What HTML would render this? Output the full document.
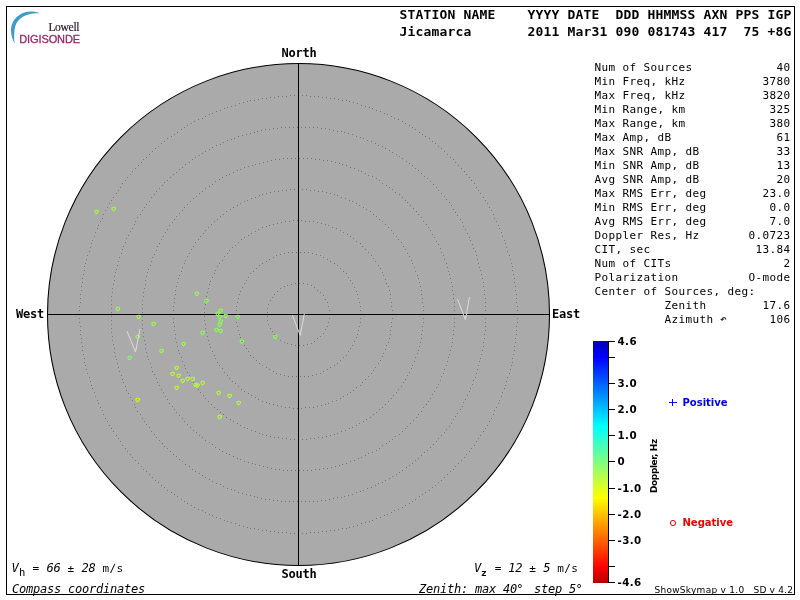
<!DOCTYPE html>
<html lang="en"><head><meta charset="utf-8"><title>Digisonde Skymap - Jicamarca</title>
<style>
html,body{margin:0;padding:0;background:#fff;}
body{width:800px;height:600px;overflow:hidden;position:relative;}
svg{position:absolute;left:0;top:0;display:block;}
text{white-space:pre;}
.m{font-family:"DejaVu Sans Mono","Liberation Mono",monospace;font-size:12px;letter-spacing:-0.2246px;fill:#000;}
.t{font-family:"DejaVu Sans Mono","Liberation Mono",monospace;font-size:11px;letter-spacing:0.3775px;fill:#000;}
.mi{font-style:italic;}
.hb{font-family:"DejaVu Sans Mono","Liberation Mono",monospace;font-weight:bold;font-size:13px;letter-spacing:0.1733px;fill:#000;}
.cb{font-family:"DejaVu Sans Mono","Liberation Mono",monospace;font-weight:bold;font-size:12px;letter-spacing:-0.2246px;fill:#000;}
.sb{font-family:"DejaVu Sans","Liberation Sans",sans-serif;font-weight:bold;font-size:10px;fill:#000;}
.tk{font-size:10.3px;letter-spacing:0.4px;}
.s{font-family:"DejaVu Sans","Liberation Sans",sans-serif;font-size:9px;letter-spacing:0.27px;fill:#000;}
</style></head><body>
<svg width="800" height="600" viewBox="0 0 800 600">
<defs><linearGradient id="jet" x1="0" y1="0" x2="0" y2="1">
<stop offset="0.0000" stop-color="#0000b4"/>
<stop offset="0.0664" stop-color="#0000ff"/>
<stop offset="0.3527" stop-color="#00ffff"/>
<stop offset="0.5000" stop-color="#80ff80"/>
<stop offset="0.6473" stop-color="#ffff00"/>
<stop offset="0.9336" stop-color="#ff0000"/>
<stop offset="1.0000" stop-color="#b40000"/>
</linearGradient></defs>
<rect x="0" y="0" width="800" height="600" fill="#fff"/>
<rect x="6.5" y="6.5" width="788" height="588" fill="none" stroke="#000" stroke-width="1"/>
<path d="M40,13.2 C33,10.5 24,11 18,16 C13,20 11,25 11,30 C11,35 12.5,40 14.7,43.2 C13.8,39 14.2,34 14.5,30 C15,25 17,21 21,18 C26,14.2 33,13 40,13.2 Z" fill="#3d9cc8"/>
<text x="48.4" y="31" style="font-family:'Liberation Serif',serif;font-size:11.6px;letter-spacing:-0.35px;fill:#2a1a28;stroke:#2a1a28;stroke-width:0.2px">Lowell</text>
<text x="19.3" y="43" style="font-family:'Liberation Sans',sans-serif;font-size:11px;letter-spacing:-0.12px;fill:#9a2866;stroke:#9a2866;stroke-width:0.3px">DIGISONDE</text>
<circle cx="298.5" cy="314.5" r="251.0" fill="#aaaaaa" stroke="#000" stroke-width="1.05"/>
<path d="M329 314.5h1M329 318.5h1M328 322.5h1M327 326.5h1M325 329.5h1M323 333.5h1M320 336.5h1M317 338.5h1M314 341.5h1M311 343.5h1M307 344.5h1M303 345.5h1M299 345.5h1M295 345.5h1M291 344.5h1M287 343.5h1M284 342.5h1M280 340.5h1M277 337.5h1M274 334.5h1M272 331.5h1M270 328.5h1M268 324.5h1M267 320.5h1M267 316.5h1M267 312.5h1M267 308.5h1M268 304.5h1M270 300.5h1M272 297.5h1M274 294.5h1M277 291.5h1M280 288.5h1M284 286.5h1M287 285.5h1M291 284.5h1M295 283.5h1M299 283.5h1M303 283.5h1M307 284.5h1M311 285.5h1M314 287.5h1M317 290.5h1M320 292.5h1M323 295.5h1M325 299.5h1M327 302.5h1M328 306.5h1M329 310.5h1M361 314.5h1M360 318.5h1M360 322.5h1M359 326.5h1M358 330.5h1M357 334.5h1M356 337.5h1M354 341.5h1M352 345.5h1M350 348.5h1M348 351.5h1M346 355.5h1M343 357.5h1M340 360.5h1M337 363.5h1M334 365.5h1M330 367.5h1M327 369.5h1M323 371.5h1M320 373.5h1M316 374.5h1M312 375.5h1M308 376.5h1M304 376.5h1M300 376.5h1M296 376.5h1M292 376.5h1M288 376.5h1M284 375.5h1M280 374.5h1M276 373.5h1M273 371.5h1M269 369.5h1M266 367.5h1M262 365.5h1M259 363.5h1M256 360.5h1M253 357.5h1M250 355.5h1M248 351.5h1M246 348.5h1M244 345.5h1M242 341.5h1M240 337.5h1M239 334.5h1M238 330.5h1M237 326.5h1M236 322.5h1M236 318.5h1M236 314.5h1M236 310.5h1M236 306.5h1M237 302.5h1M238 298.5h1M239 294.5h1M240 291.5h1M242 287.5h1M244 283.5h1M246 280.5h1M248 277.5h1M250 273.5h1M253 271.5h1M256 268.5h1M259 265.5h1M262 263.5h1M266 261.5h1M269 259.5h1M273 257.5h1M276 255.5h1M280 254.5h1M284 253.5h1M288 252.5h1M292 252.5h1M296 252.5h1M300 252.5h1M304 252.5h1M308 252.5h1M312 253.5h1M316 254.5h1M320 255.5h1M323 257.5h1M327 259.5h1M330 261.5h1M334 263.5h1M337 265.5h1M340 268.5h1M343 271.5h1M346 273.5h1M348 277.5h1M350 280.5h1M352 283.5h1M354 287.5h1M356 291.5h1M357 294.5h1M358 298.5h1M359 302.5h1M360 306.5h1M360 310.5h1M392 314.5h1M392 318.5h1M391 322.5h1M391 326.5h1M390 330.5h1M390 334.5h1M389 338.5h1M388 342.5h1M386 345.5h1M385 349.5h1M383 353.5h1M382 356.5h1M380 360.5h1M378 363.5h1M375 367.5h1M373 370.5h1M371 373.5h1M368 376.5h1M365 379.5h1M362 382.5h1M360 385.5h1M356 387.5h1M353 390.5h1M350 392.5h1M347 394.5h1M343 396.5h1M340 398.5h1M336 400.5h1M332 401.5h1M328 403.5h1M325 404.5h1M321 405.5h1M317 406.5h1M313 407.5h1M309 407.5h1M305 407.5h1M301 408.5h1M297 408.5h1M293 408.5h1M289 407.5h1M285 407.5h1M281 406.5h1M277 405.5h1M273 404.5h1M269 403.5h1M266 402.5h1M262 401.5h1M258 399.5h1M255 397.5h1M251 395.5h1M248 393.5h1M244 391.5h1M241 389.5h1M238 386.5h1M235 383.5h1M232 381.5h1M229 378.5h1M227 375.5h1M224 372.5h1M222 368.5h1M219 365.5h1M217 362.5h1M215 358.5h1M214 355.5h1M212 351.5h1M210 347.5h1M209 344.5h1M208 340.5h1M207 336.5h1M206 332.5h1M205 328.5h1M205 324.5h1M204 320.5h1M204 316.5h1M204 312.5h1M204 308.5h1M205 304.5h1M205 300.5h1M206 296.5h1M207 292.5h1M208 288.5h1M209 284.5h1M210 281.5h1M212 277.5h1M214 273.5h1M215 270.5h1M217 266.5h1M219 263.5h1M222 260.5h1M224 256.5h1M227 253.5h1M229 250.5h1M232 247.5h1M235 245.5h1M238 242.5h1M241 239.5h1M244 237.5h1M248 235.5h1M251 233.5h1M255 231.5h1M258 229.5h1M262 227.5h1M266 226.5h1M269 225.5h1M273 224.5h1M277 223.5h1M281 222.5h1M285 221.5h1M289 221.5h1M293 220.5h1M297 220.5h1M301 220.5h1M305 221.5h1M309 221.5h1M313 221.5h1M317 222.5h1M321 223.5h1M325 224.5h1M328 225.5h1M332 227.5h1M336 228.5h1M340 230.5h1M343 232.5h1M347 234.5h1M350 236.5h1M353 238.5h1M356 241.5h1M360 243.5h1M362 246.5h1M365 249.5h1M368 252.5h1M371 255.5h1M373 258.5h1M375 261.5h1M378 265.5h1M380 268.5h1M382 272.5h1M383 275.5h1M385 279.5h1M386 283.5h1M388 286.5h1M389 290.5h1M390 294.5h1M390 298.5h1M391 302.5h1M391 306.5h1M392 310.5h1M423 314.5h1M423 318.5h1M423 322.5h1M422 326.5h1M422 330.5h1M421 334.5h1M421 338.5h1M420 342.5h1M419 346.5h1M418 350.5h1M417 353.5h1M415 357.5h1M414 361.5h1M412 365.5h1M411 368.5h1M409 372.5h1M407 375.5h1M405 379.5h1M403 382.5h1M401 386.5h1M398 389.5h1M396 392.5h1M393 395.5h1M391 398.5h1M388 401.5h1M385 404.5h1M382 407.5h1M379 409.5h1M376 412.5h1M373 414.5h1M370 417.5h1M366 419.5h1M363 421.5h1M359 423.5h1M356 425.5h1M352 427.5h1M349 428.5h1M345 430.5h1M341 431.5h1M337 433.5h1M334 434.5h1M330 435.5h1M326 436.5h1M322 437.5h1M318 437.5h1M314 438.5h1M310 438.5h1M306 439.5h1M302 439.5h1M298 439.5h1M294 439.5h1M290 439.5h1M286 438.5h1M282 438.5h1M278 437.5h1M274 437.5h1M270 436.5h1M266 435.5h1M262 434.5h1M259 433.5h1M255 431.5h1M251 430.5h1M247 428.5h1M244 427.5h1M240 425.5h1M237 423.5h1M233 421.5h1M230 419.5h1M226 417.5h1M223 414.5h1M220 412.5h1M217 409.5h1M214 407.5h1M211 404.5h1M208 401.5h1M205 398.5h1M203 395.5h1M200 392.5h1M198 389.5h1M195 386.5h1M193 382.5h1M191 379.5h1M189 375.5h1M187 372.5h1M185 368.5h1M184 365.5h1M182 361.5h1M181 357.5h1M179 353.5h1M178 350.5h1M177 346.5h1M176 342.5h1M175 338.5h1M175 334.5h1M174 330.5h1M174 326.5h1M173 322.5h1M173 318.5h1M173 314.5h1M173 310.5h1M173 306.5h1M174 302.5h1M174 298.5h1M175 294.5h1M175 290.5h1M176 286.5h1M177 282.5h1M178 278.5h1M179 275.5h1M181 271.5h1M182 267.5h1M184 263.5h1M185 260.5h1M187 256.5h1M189 253.5h1M191 249.5h1M193 246.5h1M195 242.5h1M198 239.5h1M200 236.5h1M203 233.5h1M205 230.5h1M208 227.5h1M211 224.5h1M214 221.5h1M217 219.5h1M220 216.5h1M223 214.5h1M226 211.5h1M230 209.5h1M233 207.5h1M237 205.5h1M240 203.5h1M244 201.5h1M247 200.5h1M251 198.5h1M255 197.5h1M259 195.5h1M262 194.5h1M266 193.5h1M270 192.5h1M274 191.5h1M278 191.5h1M282 190.5h1M286 190.5h1M290 189.5h1M294 189.5h1M298 189.5h1M302 189.5h1M306 189.5h1M310 190.5h1M314 190.5h1M318 191.5h1M322 191.5h1M326 192.5h1M330 193.5h1M334 194.5h1M337 195.5h1M341 197.5h1M345 198.5h1M349 200.5h1M352 201.5h1M356 203.5h1M359 205.5h1M363 207.5h1M366 209.5h1M370 211.5h1M373 214.5h1M376 216.5h1M379 219.5h1M382 221.5h1M385 224.5h1M388 227.5h1M391 230.5h1M393 233.5h1M396 236.5h1M398 239.5h1M401 242.5h1M403 246.5h1M405 249.5h1M407 253.5h1M409 256.5h1M411 260.5h1M412 263.5h1M414 267.5h1M415 271.5h1M417 275.5h1M418 278.5h1M419 282.5h1M420 286.5h1M421 290.5h1M421 294.5h1M422 298.5h1M422 302.5h1M423 306.5h1M423 310.5h1M454 314.5h1M454 318.5h1M454 322.5h1M454 326.5h1M453 330.5h1M453 334.5h1M452 338.5h1M452 342.5h1M451 346.5h1M450 350.5h1M449 354.5h1M448 357.5h1M447 361.5h1M446 365.5h1M444 369.5h1M443 373.5h1M441 376.5h1M440 380.5h1M438 384.5h1M436 387.5h1M434 391.5h1M432 394.5h1M430 398.5h1M428 401.5h1M426 404.5h1M423 407.5h1M421 411.5h1M418 414.5h1M416 417.5h1M413 420.5h1M410 423.5h1M407 426.5h1M405 428.5h1M402 431.5h1M399 434.5h1M395 436.5h1M392 439.5h1M389 441.5h1M386 443.5h1M382 445.5h1M379 448.5h1M376 450.5h1M372 452.5h1M368 453.5h1M365 455.5h1M361 457.5h1M358 458.5h1M354 460.5h1M350 461.5h1M346 463.5h1M342 464.5h1M339 465.5h1M335 466.5h1M331 467.5h1M327 468.5h1M323 468.5h1M319 469.5h1M315 469.5h1M311 470.5h1M307 470.5h1M303 470.5h1M299 470.5h1M295 470.5h1M291 470.5h1M287 470.5h1M283 470.5h1M279 469.5h1M275 469.5h1M271 468.5h1M267 467.5h1M263 466.5h1M259 465.5h1M255 464.5h1M252 463.5h1M248 462.5h1M244 461.5h1M240 459.5h1M237 458.5h1M233 456.5h1M229 454.5h1M226 453.5h1M222 451.5h1M219 449.5h1M215 447.5h1M212 444.5h1M209 442.5h1M205 440.5h1M202 437.5h1M199 435.5h1M196 432.5h1M193 430.5h1M190 427.5h1M187 424.5h1M184 421.5h1M182 418.5h1M179 415.5h1M176 412.5h1M174 409.5h1M172 406.5h1M169 403.5h1M167 399.5h1M165 396.5h1M163 392.5h1M161 389.5h1M159 385.5h1M157 382.5h1M156 378.5h1M154 374.5h1M152 371.5h1M151 367.5h1M150 363.5h1M148 359.5h1M147 356.5h1M146 352.5h1M145 348.5h1M145 344.5h1M144 340.5h1M143 336.5h1M143 332.5h1M142 328.5h1M142 324.5h1M142 320.5h1M142 316.5h1M142 312.5h1M142 308.5h1M142 304.5h1M142 300.5h1M143 296.5h1M143 292.5h1M144 288.5h1M145 284.5h1M145 280.5h1M146 276.5h1M147 272.5h1M148 269.5h1M150 265.5h1M151 261.5h1M152 257.5h1M154 254.5h1M156 250.5h1M157 246.5h1M159 243.5h1M161 239.5h1M163 236.5h1M165 232.5h1M167 229.5h1M169 225.5h1M172 222.5h1M174 219.5h1M176 216.5h1M179 213.5h1M182 210.5h1M184 207.5h1M187 204.5h1M190 201.5h1M193 198.5h1M196 196.5h1M199 193.5h1M202 191.5h1M205 188.5h1M209 186.5h1M212 184.5h1M215 181.5h1M219 179.5h1M222 177.5h1M226 175.5h1M229 174.5h1M233 172.5h1M237 170.5h1M240 169.5h1M244 167.5h1M248 166.5h1M252 165.5h1M255 164.5h1M259 163.5h1M263 162.5h1M267 161.5h1M271 160.5h1M275 159.5h1M279 159.5h1M283 158.5h1M287 158.5h1M291 158.5h1M295 158.5h1M299 158.5h1M303 158.5h1M307 158.5h1M311 158.5h1M315 159.5h1M319 159.5h1M323 160.5h1M327 160.5h1M331 161.5h1M335 162.5h1M339 163.5h1M342 164.5h1M346 165.5h1M350 167.5h1M354 168.5h1M358 170.5h1M361 171.5h1M365 173.5h1M368 175.5h1M372 176.5h1M376 178.5h1M379 180.5h1M382 183.5h1M386 185.5h1M389 187.5h1M392 189.5h1M395 192.5h1M399 194.5h1M402 197.5h1M405 200.5h1M407 202.5h1M410 205.5h1M413 208.5h1M416 211.5h1M418 214.5h1M421 217.5h1M423 221.5h1M426 224.5h1M428 227.5h1M430 230.5h1M432 234.5h1M434 237.5h1M436 241.5h1M438 244.5h1M440 248.5h1M441 252.5h1M443 255.5h1M444 259.5h1M446 263.5h1M447 267.5h1M448 271.5h1M449 274.5h1M450 278.5h1M451 282.5h1M452 286.5h1M452 290.5h1M453 294.5h1M453 298.5h1M454 302.5h1M454 306.5h1M454 310.5h1M486 314.5h1M485 318.5h1M485 322.5h1M485 326.5h1M485 330.5h1M484 334.5h1M484 338.5h1M483 342.5h1M483 346.5h1M482 350.5h1M481 354.5h1M480 358.5h1M479 361.5h1M478 365.5h1M477 369.5h1M476 373.5h1M475 377.5h1M473 380.5h1M472 384.5h1M470 388.5h1M469 391.5h1M467 395.5h1M465 399.5h1M463 402.5h1M462 406.5h1M460 409.5h1M457 413.5h1M455 416.5h1M453 419.5h1M451 423.5h1M449 426.5h1M446 429.5h1M444 432.5h1M441 435.5h1M438 438.5h1M436 441.5h1M433 444.5h1M430 447.5h1M427 450.5h1M424 452.5h1M421 455.5h1M418 458.5h1M415 460.5h1M412 463.5h1M409 465.5h1M406 467.5h1M402 470.5h1M399 472.5h1M396 474.5h1M392 476.5h1M389 478.5h1M385 480.5h1M382 482.5h1M378 483.5h1M375 485.5h1M371 487.5h1M367 488.5h1M363 490.5h1M360 491.5h1M356 492.5h1M352 494.5h1M348 495.5h1M344 496.5h1M341 497.5h1M337 497.5h1M333 498.5h1M329 499.5h1M325 500.5h1M321 500.5h1M317 501.5h1M313 501.5h1M309 501.5h1M305 501.5h1M301 501.5h1M297 501.5h1M293 501.5h1M289 501.5h1M285 501.5h1M281 501.5h1M277 500.5h1M273 500.5h1M269 499.5h1M265 499.5h1M261 498.5h1M257 497.5h1M254 496.5h1M250 495.5h1M246 494.5h1M242 493.5h1M238 492.5h1M234 490.5h1M231 489.5h1M227 488.5h1M223 486.5h1M220 484.5h1M216 483.5h1M212 481.5h1M209 479.5h1M205 477.5h1M202 475.5h1M199 473.5h1M195 471.5h1M192 469.5h1M189 466.5h1M185 464.5h1M182 461.5h1M179 459.5h1M176 456.5h1M173 454.5h1M170 451.5h1M167 448.5h1M164 446.5h1M162 443.5h1M159 440.5h1M156 437.5h1M154 434.5h1M151 431.5h1M149 427.5h1M146 424.5h1M144 421.5h1M142 418.5h1M140 414.5h1M137 411.5h1M135 407.5h1M134 404.5h1M132 400.5h1M130 397.5h1M128 393.5h1M126 390.5h1M125 386.5h1M123 382.5h1M122 379.5h1M121 375.5h1M119 371.5h1M118 367.5h1M117 363.5h1M116 359.5h1M115 356.5h1M114 352.5h1M114 348.5h1M113 344.5h1M112 340.5h1M112 336.5h1M111 332.5h1M111 328.5h1M111 324.5h1M111 320.5h1M111 316.5h1M111 312.5h1M111 308.5h1M111 304.5h1M111 300.5h1M111 296.5h1M112 292.5h1M112 288.5h1M113 284.5h1M114 280.5h1M114 276.5h1M115 272.5h1M116 269.5h1M117 265.5h1M118 261.5h1M119 257.5h1M121 253.5h1M122 249.5h1M123 246.5h1M125 242.5h1M126 238.5h1M128 235.5h1M130 231.5h1M132 228.5h1M134 224.5h1M135 221.5h1M137 217.5h1M140 214.5h1M142 210.5h1M144 207.5h1M146 204.5h1M149 201.5h1M151 197.5h1M154 194.5h1M156 191.5h1M159 188.5h1M162 185.5h1M164 182.5h1M167 180.5h1M170 177.5h1M173 174.5h1M176 172.5h1M179 169.5h1M182 167.5h1M185 164.5h1M189 162.5h1M192 159.5h1M195 157.5h1M199 155.5h1M202 153.5h1M205 151.5h1M209 149.5h1M212 147.5h1M216 145.5h1M220 144.5h1M223 142.5h1M227 140.5h1M231 139.5h1M234 138.5h1M238 136.5h1M242 135.5h1M246 134.5h1M250 133.5h1M254 132.5h1M257 131.5h1M261 130.5h1M265 129.5h1M269 129.5h1M273 128.5h1M277 128.5h1M281 127.5h1M285 127.5h1M289 127.5h1M293 127.5h1M297 127.5h1M301 127.5h1M305 127.5h1M309 127.5h1M313 127.5h1M317 127.5h1M321 128.5h1M325 128.5h1M329 129.5h1M333 130.5h1M337 131.5h1M341 131.5h1M344 132.5h1M348 133.5h1M352 134.5h1M356 136.5h1M360 137.5h1M363 138.5h1M367 140.5h1M371 141.5h1M375 143.5h1M378 145.5h1M382 146.5h1M385 148.5h1M389 150.5h1M392 152.5h1M396 154.5h1M399 156.5h1M402 158.5h1M406 161.5h1M409 163.5h1M412 165.5h1M415 168.5h1M418 170.5h1M421 173.5h1M424 176.5h1M427 178.5h1M430 181.5h1M433 184.5h1M436 187.5h1M438 190.5h1M441 193.5h1M444 196.5h1M446 199.5h1M449 202.5h1M451 205.5h1M453 209.5h1M455 212.5h1M457 215.5h1M460 219.5h1M462 222.5h1M463 226.5h1M465 229.5h1M467 233.5h1M469 237.5h1M470 240.5h1M472 244.5h1M473 248.5h1M475 251.5h1M476 255.5h1M477 259.5h1M478 263.5h1M479 267.5h1M480 270.5h1M481 274.5h1M482 278.5h1M483 282.5h1M483 286.5h1M484 290.5h1M484 294.5h1M485 298.5h1M485 302.5h1M485 306.5h1M485 310.5h1M517 314.5h1M517 318.5h1M517 322.5h1M516 326.5h1M516 330.5h1M516 334.5h1M515 338.5h1M515 342.5h1M514 346.5h1M514 350.5h1M513 354.5h1M512 358.5h1M512 362.5h1M511 365.5h1M510 369.5h1M509 373.5h1M507 377.5h1M506 381.5h1M505 385.5h1M504 388.5h1M502 392.5h1M501 396.5h1M499 400.5h1M498 403.5h1M496 407.5h1M494 410.5h1M493 414.5h1M491 418.5h1M489 421.5h1M487 425.5h1M485 428.5h1M483 431.5h1M480 435.5h1M478 438.5h1M476 441.5h1M474 445.5h1M471 448.5h1M469 451.5h1M466 454.5h1M464 457.5h1M461 460.5h1M458 463.5h1M455 466.5h1M453 469.5h1M450 471.5h1M447 474.5h1M444 477.5h1M441 480.5h1M438 482.5h1M435 485.5h1M432 487.5h1M429 490.5h1M425 492.5h1M422 494.5h1M419 496.5h1M415 499.5h1M412 501.5h1M409 503.5h1M405 505.5h1M402 507.5h1M398 509.5h1M394 510.5h1M391 512.5h1M387 514.5h1M384 515.5h1M380 517.5h1M376 518.5h1M372 520.5h1M369 521.5h1M365 522.5h1M361 523.5h1M357 525.5h1M353 526.5h1M349 527.5h1M346 528.5h1M342 528.5h1M338 529.5h1M334 530.5h1M330 530.5h1M326 531.5h1M322 531.5h1M318 532.5h1M314 532.5h1M310 532.5h1M306 533.5h1M302 533.5h1M298 533.5h1M294 533.5h1M290 533.5h1M286 532.5h1M282 532.5h1M278 532.5h1M274 531.5h1M270 531.5h1M266 530.5h1M262 530.5h1M258 529.5h1M254 528.5h1M250 528.5h1M247 527.5h1M243 526.5h1M239 525.5h1M235 523.5h1M231 522.5h1M227 521.5h1M224 520.5h1M220 518.5h1M216 517.5h1M212 515.5h1M209 514.5h1M205 512.5h1M202 510.5h1M198 509.5h1M194 507.5h1M191 505.5h1M187 503.5h1M184 501.5h1M181 499.5h1M177 496.5h1M174 494.5h1M171 492.5h1M167 490.5h1M164 487.5h1M161 485.5h1M158 482.5h1M155 480.5h1M152 477.5h1M149 474.5h1M146 471.5h1M143 469.5h1M141 466.5h1M138 463.5h1M135 460.5h1M132 457.5h1M130 454.5h1M127 451.5h1M125 448.5h1M122 445.5h1M120 441.5h1M118 438.5h1M116 435.5h1M113 431.5h1M111 428.5h1M109 425.5h1M107 421.5h1M105 418.5h1M103 414.5h1M102 410.5h1M100 407.5h1M98 403.5h1M97 400.5h1M95 396.5h1M94 392.5h1M92 388.5h1M91 385.5h1M90 381.5h1M89 377.5h1M87 373.5h1M86 369.5h1M85 365.5h1M84 362.5h1M84 358.5h1M83 354.5h1M82 350.5h1M82 346.5h1M81 342.5h1M81 338.5h1M80 334.5h1M80 330.5h1M80 326.5h1M79 322.5h1M79 318.5h1M79 314.5h1M79 310.5h1M79 306.5h1M80 302.5h1M80 298.5h1M80 294.5h1M81 290.5h1M81 286.5h1M82 282.5h1M82 278.5h1M83 274.5h1M84 270.5h1M84 266.5h1M85 263.5h1M86 259.5h1M87 255.5h1M89 251.5h1M90 247.5h1M91 243.5h1M92 240.5h1M94 236.5h1M95 232.5h1M97 228.5h1M98 225.5h1M100 221.5h1M102 218.5h1M103 214.5h1M105 210.5h1M107 207.5h1M109 203.5h1M111 200.5h1M113 197.5h1M116 193.5h1M118 190.5h1M120 187.5h1M122 183.5h1M125 180.5h1M127 177.5h1M130 174.5h1M132 171.5h1M135 168.5h1M138 165.5h1M141 162.5h1M143 159.5h1M146 157.5h1M149 154.5h1M152 151.5h1M155 148.5h1M158 146.5h1M161 143.5h1M164 141.5h1M167 138.5h1M171 136.5h1M174 134.5h1M177 132.5h1M181 129.5h1M184 127.5h1M187 125.5h1M191 123.5h1M194 121.5h1M198 119.5h1M202 118.5h1M205 116.5h1M209 114.5h1M212 113.5h1M216 111.5h1M220 110.5h1M224 108.5h1M227 107.5h1M231 106.5h1M235 105.5h1M239 103.5h1M243 102.5h1M247 101.5h1M250 100.5h1M254 100.5h1M258 99.5h1M262 98.5h1M266 98.5h1M270 97.5h1M274 97.5h1M278 96.5h1M282 96.5h1M286 96.5h1M290 95.5h1M294 95.5h1M298 95.5h1M302 95.5h1M306 95.5h1M310 96.5h1M314 96.5h1M318 96.5h1M322 97.5h1M326 97.5h1M330 98.5h1M334 98.5h1M338 99.5h1M342 100.5h1M346 100.5h1M349 101.5h1M353 102.5h1M357 103.5h1M361 105.5h1M365 106.5h1M369 107.5h1M372 108.5h1M376 110.5h1M380 111.5h1M384 113.5h1M387 114.5h1M391 116.5h1M394 118.5h1M398 119.5h1M402 121.5h1M405 123.5h1M409 125.5h1M412 127.5h1M415 129.5h1M419 132.5h1M422 134.5h1M425 136.5h1M429 138.5h1M432 141.5h1M435 143.5h1M438 146.5h1M441 148.5h1M444 151.5h1M447 154.5h1M450 157.5h1M453 159.5h1M455 162.5h1M458 165.5h1M461 168.5h1M464 171.5h1M466 174.5h1M469 177.5h1M471 180.5h1M474 183.5h1M476 187.5h1M478 190.5h1M480 193.5h1M483 197.5h1M485 200.5h1M487 203.5h1M489 207.5h1M491 210.5h1M493 214.5h1M494 218.5h1M496 221.5h1M498 225.5h1M499 228.5h1M501 232.5h1M502 236.5h1M504 240.5h1M505 243.5h1M506 247.5h1M507 251.5h1M509 255.5h1M510 259.5h1M511 263.5h1M512 266.5h1M512 270.5h1M513 274.5h1M514 278.5h1M514 282.5h1M515 286.5h1M515 290.5h1M516 294.5h1M516 298.5h1M516 302.5h1M517 306.5h1M517 310.5h1" fill="none" stroke="#747474" stroke-width="1" shape-rendering="crispEdges"/>
<line x1="298.5" y1="63.5" x2="298.5" y2="565.5" stroke="#000" stroke-width="1"/>
<line x1="47.5" y1="314.5" x2="549.5" y2="314.5" stroke="#000" stroke-width="1"/>
<path transform="translate(96.6,212)" d="M-1.5,-1.3Q-0.6,-2 0.7,-1.7Q2.2,-1.1 1.6,0L-0.1,1.8Q-1.5,1.4 -1.8,0Q-1.9,-0.8 -1.5,-1.3Z" fill="none" stroke="#9cff3c" stroke-width="1.1"/>
<path transform="translate(113.75,209)" d="M-1.5,-1.3Q-0.6,-2 0.7,-1.7Q2.2,-1.1 1.6,0L-0.1,1.8Q-1.5,1.4 -1.8,0Q-1.9,-0.8 -1.5,-1.3Z" fill="none" stroke="#9cff3c" stroke-width="1.1"/>
<path transform="translate(118,309)" d="M-1.5,-1.3Q-0.6,-2 0.7,-1.7Q2.2,-1.1 1.6,0L-0.1,1.8Q-1.5,1.4 -1.8,0Q-1.9,-0.8 -1.5,-1.3Z" fill="none" stroke="#98ff48" stroke-width="1.1"/>
<path transform="translate(138.75,317)" d="M-1.5,-1.3Q-0.6,-2 0.7,-1.7Q2.2,-1.1 1.6,0L-0.1,1.8Q-1.5,1.4 -1.8,0Q-1.9,-0.8 -1.5,-1.3Z" fill="none" stroke="#98ff48" stroke-width="1.1"/>
<path transform="translate(153.75,324)" d="M-1.5,-1.3Q-0.6,-2 0.7,-1.7Q2.2,-1.1 1.6,0L-0.1,1.8Q-1.5,1.4 -1.8,0Q-1.9,-0.8 -1.5,-1.3Z" fill="none" stroke="#98ff48" stroke-width="1.1"/>
<path transform="translate(137.75,337)" d="M-1.5,-1.3Q-0.6,-2 0.7,-1.7Q2.2,-1.1 1.6,0L-0.1,1.8Q-1.5,1.4 -1.8,0Q-1.9,-0.8 -1.5,-1.3Z" fill="none" stroke="#98ff48" stroke-width="1.1"/>
<path transform="translate(197,293.75)" d="M-1.5,-1.3Q-0.6,-2 0.7,-1.7Q2.2,-1.1 1.6,0L-0.1,1.8Q-1.5,1.4 -1.8,0Q-1.9,-0.8 -1.5,-1.3Z" fill="none" stroke="#98ff48" stroke-width="1.1"/>
<path transform="translate(183.75,344)" d="M-1.5,-1.3Q-0.6,-2 0.7,-1.7Q2.2,-1.1 1.6,0L-0.1,1.8Q-1.5,1.4 -1.8,0Q-1.9,-0.8 -1.5,-1.3Z" fill="none" stroke="#98ff48" stroke-width="1.1"/>
<path transform="translate(161.6,351)" d="M-1.5,-1.3Q-0.6,-2 0.7,-1.7Q2.2,-1.1 1.6,0L-0.1,1.8Q-1.5,1.4 -1.8,0Q-1.9,-0.8 -1.5,-1.3Z" fill="none" stroke="#98ff48" stroke-width="1.1"/>
<path transform="translate(206.6,301)" d="M-1.5,-1.3Q-0.6,-2 0.7,-1.7Q2.2,-1.1 1.6,0L-0.1,1.8Q-1.5,1.4 -1.8,0Q-1.9,-0.8 -1.5,-1.3Z" fill="none" stroke="#88ff50" stroke-width="1.1"/>
<path transform="translate(220.75,310.75)" d="M-1.5,-1.3Q-0.6,-2 0.7,-1.7Q2.2,-1.1 1.6,0L-0.1,1.8Q-1.5,1.4 -1.8,0Q-1.9,-0.8 -1.5,-1.3Z" fill="none" stroke="#88ff50" stroke-width="1.1"/>
<path transform="translate(217.75,313.75)" d="M-1.5,-1.3Q-0.6,-2 0.7,-1.7Q2.2,-1.1 1.6,0L-0.1,1.8Q-1.5,1.4 -1.8,0Q-1.9,-0.8 -1.5,-1.3Z" fill="none" stroke="#88ff50" stroke-width="1.1"/>
<path transform="translate(220,317)" d="M-1.5,-1.3Q-0.6,-2 0.7,-1.7Q2.2,-1.1 1.6,0L-0.1,1.8Q-1.5,1.4 -1.8,0Q-1.9,-0.8 -1.5,-1.3Z" fill="none" stroke="#88ff50" stroke-width="1.1"/>
<path transform="translate(225.75,316)" d="M-1.5,-1.3Q-0.6,-2 0.7,-1.7Q2.2,-1.1 1.6,0L-0.1,1.8Q-1.5,1.4 -1.8,0Q-1.9,-0.8 -1.5,-1.3Z" fill="none" stroke="#88ff50" stroke-width="1.1"/>
<path transform="translate(237.75,317)" d="M-1.5,-1.3Q-0.6,-2 0.7,-1.7Q2.2,-1.1 1.6,0L-0.1,1.8Q-1.5,1.4 -1.8,0Q-1.9,-0.8 -1.5,-1.3Z" fill="none" stroke="#88ff50" stroke-width="1.1"/>
<path transform="translate(220.75,321.6)" d="M-1.5,-1.3Q-0.6,-2 0.7,-1.7Q2.2,-1.1 1.6,0L-0.1,1.8Q-1.5,1.4 -1.8,0Q-1.9,-0.8 -1.5,-1.3Z" fill="none" stroke="#88ff50" stroke-width="1.1"/>
<path transform="translate(219.75,324.75)" d="M-1.5,-1.3Q-0.6,-2 0.7,-1.7Q2.2,-1.1 1.6,0L-0.1,1.8Q-1.5,1.4 -1.8,0Q-1.9,-0.8 -1.5,-1.3Z" fill="none" stroke="#88ff50" stroke-width="1.1"/>
<path transform="translate(216.5,330)" d="M-1.5,-1.3Q-0.6,-2 0.7,-1.7Q2.2,-1.1 1.6,0L-0.1,1.8Q-1.5,1.4 -1.8,0Q-1.9,-0.8 -1.5,-1.3Z" fill="none" stroke="#88ff50" stroke-width="1.1"/>
<path transform="translate(220.75,331)" d="M-1.5,-1.3Q-0.6,-2 0.7,-1.7Q2.2,-1.1 1.6,0L-0.1,1.8Q-1.5,1.4 -1.8,0Q-1.9,-0.8 -1.5,-1.3Z" fill="none" stroke="#88ff50" stroke-width="1.1"/>
<path transform="translate(202.75,333)" d="M-1.5,-1.3Q-0.6,-2 0.7,-1.7Q2.2,-1.1 1.6,0L-0.1,1.8Q-1.5,1.4 -1.8,0Q-1.9,-0.8 -1.5,-1.3Z" fill="none" stroke="#88ff50" stroke-width="1.1"/>
<path transform="translate(241.9,341.75)" d="M-1.5,-1.3Q-0.6,-2 0.7,-1.7Q2.2,-1.1 1.6,0L-0.1,1.8Q-1.5,1.4 -1.8,0Q-1.9,-0.8 -1.5,-1.3Z" fill="none" stroke="#88ff50" stroke-width="1.1"/>
<path transform="translate(275.6,337)" d="M-1.5,-1.3Q-0.6,-2 0.7,-1.7Q2.2,-1.1 1.6,0L-0.1,1.8Q-1.5,1.4 -1.8,0Q-1.9,-0.8 -1.5,-1.3Z" fill="none" stroke="#88ff50" stroke-width="1.1"/>
<path transform="translate(129.75,358)" d="M-1.5,-1.3Q-0.6,-2 0.7,-1.7Q2.2,-1.1 1.6,0L-0.1,1.8Q-1.5,1.4 -1.8,0Q-1.9,-0.8 -1.5,-1.3Z" fill="none" stroke="#7cff6c" stroke-width="1.1"/>
<path transform="translate(176.75,368)" d="M-1.5,-1.3Q-0.6,-2 0.7,-1.7Q2.2,-1.1 1.6,0L-0.1,1.8Q-1.5,1.4 -1.8,0Q-1.9,-0.8 -1.5,-1.3Z" fill="none" stroke="#b8ff28" stroke-width="1.1"/>
<path transform="translate(172.75,374)" d="M-1.5,-1.3Q-0.6,-2 0.7,-1.7Q2.2,-1.1 1.6,0L-0.1,1.8Q-1.5,1.4 -1.8,0Q-1.9,-0.8 -1.5,-1.3Z" fill="none" stroke="#b8ff28" stroke-width="1.1"/>
<path transform="translate(178.75,375.75)" d="M-1.5,-1.3Q-0.6,-2 0.7,-1.7Q2.2,-1.1 1.6,0L-0.1,1.8Q-1.5,1.4 -1.8,0Q-1.9,-0.8 -1.5,-1.3Z" fill="none" stroke="#b8ff28" stroke-width="1.1"/>
<path transform="translate(182.75,381)" d="M-1.5,-1.3Q-0.6,-2 0.7,-1.7Q2.2,-1.1 1.6,0L-0.1,1.8Q-1.5,1.4 -1.8,0Q-1.9,-0.8 -1.5,-1.3Z" fill="none" stroke="#b8ff28" stroke-width="1.1"/>
<path transform="translate(187.75,379)" d="M-1.5,-1.3Q-0.6,-2 0.7,-1.7Q2.2,-1.1 1.6,0L-0.1,1.8Q-1.5,1.4 -1.8,0Q-1.9,-0.8 -1.5,-1.3Z" fill="none" stroke="#b8ff28" stroke-width="1.1"/>
<path transform="translate(192.75,379)" d="M-1.5,-1.3Q-0.6,-2 0.7,-1.7Q2.2,-1.1 1.6,0L-0.1,1.8Q-1.5,1.4 -1.8,0Q-1.9,-0.8 -1.5,-1.3Z" fill="none" stroke="#b8ff28" stroke-width="1.1"/>
<path transform="translate(195.75,385)" d="M-1.5,-1.3Q-0.6,-2 0.7,-1.7Q2.2,-1.1 1.6,0L-0.1,1.8Q-1.5,1.4 -1.8,0Q-1.9,-0.8 -1.5,-1.3Z" fill="none" stroke="#b8ff28" stroke-width="1.1"/>
<path transform="translate(197.5,385.5)" d="M-1.5,-1.3Q-0.6,-2 0.7,-1.7Q2.2,-1.1 1.6,0L-0.1,1.8Q-1.5,1.4 -1.8,0Q-1.9,-0.8 -1.5,-1.3Z" fill="none" stroke="#b8ff28" stroke-width="1.1"/>
<path transform="translate(176.75,388)" d="M-1.5,-1.3Q-0.6,-2 0.7,-1.7Q2.2,-1.1 1.6,0L-0.1,1.8Q-1.5,1.4 -1.8,0Q-1.9,-0.8 -1.5,-1.3Z" fill="none" stroke="#b8ff28" stroke-width="1.1"/>
<path transform="translate(137.75,400)" d="M-1.5,-1.3Q-0.6,-2 0.7,-1.7Q2.2,-1.1 1.6,0L-0.1,1.8Q-1.5,1.4 -1.8,0Q-1.9,-0.8 -1.5,-1.3Z" fill="none" stroke="#ccff14" stroke-width="1.1"/>
<path transform="translate(202.75,383)" d="M-1.5,-1.3Q-0.6,-2 0.7,-1.7Q2.2,-1.1 1.6,0L-0.1,1.8Q-1.5,1.4 -1.8,0Q-1.9,-0.8 -1.5,-1.3Z" fill="none" stroke="#b8ff28" stroke-width="1.1"/>
<path transform="translate(218.75,393)" d="M-1.5,-1.3Q-0.6,-2 0.7,-1.7Q2.2,-1.1 1.6,0L-0.1,1.8Q-1.5,1.4 -1.8,0Q-1.9,-0.8 -1.5,-1.3Z" fill="none" stroke="#b0ff30" stroke-width="1.1"/>
<path transform="translate(229.75,396)" d="M-1.5,-1.3Q-0.6,-2 0.7,-1.7Q2.2,-1.1 1.6,0L-0.1,1.8Q-1.5,1.4 -1.8,0Q-1.9,-0.8 -1.5,-1.3Z" fill="none" stroke="#b0ff30" stroke-width="1.1"/>
<path transform="translate(238.75,403)" d="M-1.5,-1.3Q-0.6,-2 0.7,-1.7Q2.2,-1.1 1.6,0L-0.1,1.8Q-1.5,1.4 -1.8,0Q-1.9,-0.8 -1.5,-1.3Z" fill="none" stroke="#b0ff30" stroke-width="1.1"/>
<path transform="translate(219.75,417)" d="M-1.5,-1.3Q-0.6,-2 0.7,-1.7Q2.2,-1.1 1.6,0L-0.1,1.8Q-1.5,1.4 -1.8,0Q-1.9,-0.8 -1.5,-1.3Z" fill="none" stroke="#b0ff30" stroke-width="1.1"/>
<polyline points="127,331 135.5,352 140,329" fill="none" stroke="#dcdcdc" stroke-width="1"/>
<polyline points="292.4,315.1 300.2,335.5 304.4,313.4" fill="none" stroke="#dcdcdc" stroke-width="1"/>
<polyline points="457.4,298.9 465.4,319.7 469.5,297" fill="none" stroke="#dcdcdc" stroke-width="1"/>
<text class="cb" x="281.5" y="57">North</text>
<text class="cb" x="281.5" y="578">South</text>
<text class="cb" x="16" y="318">West</text>
<text class="cb" x="552" y="318">East</text>
<text class="hb" x="399.4" y="19">STATION NAME    YYYY DATE  DDD HHMMSS AXN PPS IGP</text>
<text class="hb" x="399.4" y="36">Jicamarca       2011 Mar31 090 081743 417  75 +8G</text>
<text class="t" x="594.4" y="71">Num of Sources</text>
<text class="t" x="776.4" y="71">40</text>
<text class="t" x="594.4" y="85">Min Freq, kHz</text>
<text class="t" x="762.4" y="85">3780</text>
<text class="t" x="594.4" y="99">Max Freq, kHz</text>
<text class="t" x="762.4" y="99">3820</text>
<text class="t" x="594.4" y="113">Min Range, km</text>
<text class="t" x="769.4" y="113">325</text>
<text class="t" x="594.4" y="127">Max Range, km</text>
<text class="t" x="769.4" y="127">380</text>
<text class="t" x="594.4" y="141">Max Amp, dB</text>
<text class="t" x="776.4" y="141">61</text>
<text class="t" x="594.4" y="155">Max SNR Amp, dB</text>
<text class="t" x="776.4" y="155">33</text>
<text class="t" x="594.4" y="169">Min SNR Amp, dB</text>
<text class="t" x="776.4" y="169">13</text>
<text class="t" x="594.4" y="183">Avg SNR Amp, dB</text>
<text class="t" x="776.4" y="183">20</text>
<text class="t" x="594.4" y="197">Max RMS Err, deg</text>
<text class="t" x="762.4" y="197">23.0</text>
<text class="t" x="594.4" y="211">Min RMS Err, deg</text>
<text class="t" x="769.4" y="211">0.0</text>
<text class="t" x="594.4" y="225">Avg RMS Err, deg</text>
<text class="t" x="769.4" y="225">7.0</text>
<text class="t" x="594.4" y="239">Doppler Res, Hz</text>
<text class="t" x="748.4" y="239">0.0723</text>
<text class="t" x="594.4" y="253">CIT, sec</text>
<text class="t" x="755.4" y="253">13.84</text>
<text class="t" x="594.4" y="267">Num of CITs</text>
<text class="t" x="783.4" y="267">2</text>
<text class="t" x="594.4" y="281">Polarization</text>
<text class="t" x="748.4" y="281">O-mode</text>
<text class="t" x="594.4" y="295">Center of Sources, deg:</text>
<text class="t" x="594.4" y="309">          Zenith</text>
<text class="t" x="762.4" y="309">17.6</text>
<text class="t" x="594.4" y="323">          Azimuth</text>
<text class="t" x="769.4" y="323">106</text>
<text x="720.5" y="322" style="font-family:'DejaVu Sans',sans-serif;font-size:7px;fill:#000;stroke:#000;stroke-width:0.25px">&#8630;</text>
<rect x="593" y="341" width="15" height="242" fill="url(#jet)"/>
<rect x="608" y="341" width="1" height="242" fill="#000"/>
<rect x="608" y="341" width="7" height="1" fill="#000"/>
<text class="sb tk" x="617.5" y="345">4.6</text>
<rect x="608" y="357" width="7" height="1" fill="#000"/>
<rect x="608" y="383" width="7" height="1" fill="#000"/>
<text class="sb tk" x="617.5" y="387">3.0</text>
<rect x="608" y="409" width="7" height="1" fill="#000"/>
<text class="sb tk" x="617.5" y="413">2.0</text>
<rect x="608" y="435" width="7" height="1" fill="#000"/>
<text class="sb tk" x="617.5" y="439">1.0</text>
<rect x="608" y="461" width="7" height="1" fill="#000"/>
<text class="sb tk" x="617.5" y="465">0</text>
<rect x="608" y="488" width="7" height="1" fill="#000"/>
<text class="sb tk" x="617.5" y="492">-1.0</text>
<rect x="608" y="514" width="7" height="1" fill="#000"/>
<text class="sb tk" x="617.5" y="518">-2.0</text>
<rect x="608" y="540" width="7" height="1" fill="#000"/>
<text class="sb tk" x="617.5" y="544">-3.0</text>
<rect x="608" y="566" width="7" height="1" fill="#000"/>
<rect x="608" y="582" width="7" height="1" fill="#000"/>
<text class="sb tk" x="617.5" y="586">-4.6</text>
<text class="sb" transform="translate(657,493) rotate(-90)" style="font-size:9px;letter-spacing:-0.4px">Doppler, Hz</text>
<path d="M669,402.5H677M672.5,399V406" stroke="#0000f0" stroke-width="1" fill="none"/>
<text class="sb" x="682.5" y="406" style="fill:#0000f0">Positive</text>
<circle cx="673" cy="523" r="2.6" fill="none" stroke="#f00000" stroke-width="1"/>
<text class="sb" x="682.5" y="526" style="fill:#f00000">Negative</text>
<text class="m mi" x="11.5" y="572">V</text>
<text class="m" x="19.0" y="576" style="font-size:10.5px">h</text>
<text class="t" x="32.5" y="572">=</text>
<text class="m mi" x="46.5" y="572">66</text>
<text class="t" x="67.5" y="572">±</text>
<text class="m mi" x="81.5" y="572">28</text>
<text class="t" x="102.5" y="572">m/s</text>
<text class="m mi" x="12" y="593">Compass coordinates</text>
<text class="m mi" x="474.0" y="572">V</text>
<text class="m" x="481.0" y="576" style="font-size:9.5px;font-weight:bold">z</text>
<text class="t" x="494.7" y="572">=</text>
<text class="m mi" x="508.2" y="572">12</text>
<text class="t" x="529.2" y="572">±</text>
<text class="m mi" x="543.2" y="572">5</text>
<text class="t" x="557.2" y="572">m/s</text>
<text class="m mi" x="419" y="593">Zenith: max 40</text>
<text class="m mi" x="516.3" y="593">°</text>
<text class="m mi" x="534.1" y="593">step 5</text>
<text class="m mi" x="575.5" y="593">°</text>
<text class="s" x="654.5" y="593">ShowSkymap v 1.0</text>
<text class="s" x="753.5" y="593" style="letter-spacing:0.2px">SD v 4.2</text>
</svg></body></html>
